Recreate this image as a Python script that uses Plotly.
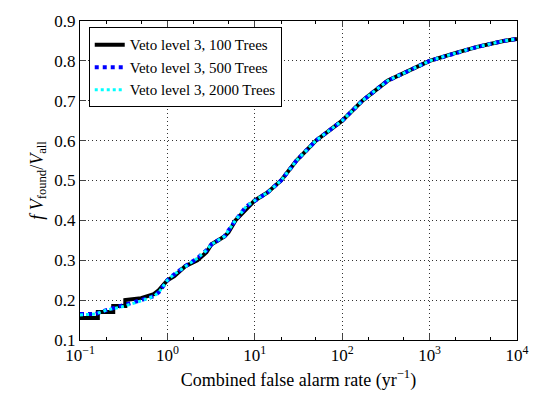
import plotly.graph_objects as go

far_100 = [0.1, 0.16, 0.16, 0.24, 0.24, 0.33, 0.33, 0.5, 0.7, 0.8, 1.0, 1.2, 1.6, 2.2, 2.8, 3.2, 4.5, 5, 6, 8, 10, 14, 20, 30, 50, 100, 170, 330, 1000, 2000, 3500, 7000, 10000]
vf_100 = [0.155, 0.155, 0.17, 0.17, 0.185, 0.185, 0.2, 0.205, 0.215, 0.225, 0.25, 0.26, 0.285, 0.3, 0.32, 0.34, 0.36, 0.37, 0.4, 0.43, 0.45, 0.47, 0.5, 0.55, 0.6, 0.65, 0.7, 0.75, 0.8, 0.82, 0.835, 0.85, 0.855]
far_500 = [0.1, 0.15, 0.2, 0.3, 0.5, 0.7, 0.8, 1.0, 1.2, 1.6, 2.2, 2.8, 3.2, 4.5, 5, 6, 8, 10, 14, 20, 30, 50, 100, 170, 330, 1000, 2000, 3500, 7000, 10000]
vf_500 = [0.165, 0.165, 0.175, 0.185, 0.2, 0.21, 0.22, 0.25, 0.265, 0.285, 0.305, 0.325, 0.34, 0.36, 0.375, 0.4, 0.435, 0.45, 0.47, 0.5, 0.55, 0.6, 0.65, 0.7, 0.75, 0.8, 0.82, 0.835, 0.85, 0.855]
far_2000 = far_500
vf_2000 = [0.163, 0.165, 0.175, 0.183, 0.198, 0.21, 0.22, 0.25, 0.265, 0.285, 0.305, 0.325, 0.34, 0.36, 0.375, 0.4, 0.435, 0.45, 0.47, 0.5, 0.55, 0.6, 0.65, 0.7, 0.75, 0.8, 0.82, 0.835, 0.85, 0.855]

fig = go.Figure()
fig.add_trace(go.Scatter(x=far_100, y=vf_100, mode="lines", name="Veto level 3, 100 Trees",
                         line=dict(color="black", width=4)))
fig.add_trace(go.Scatter(x=far_500, y=vf_500, mode="lines", name="Veto level 3, 500 Trees",
                         line=dict(color="blue", width=4, dash="dot")))
fig.add_trace(go.Scatter(x=far_2000, y=vf_2000, mode="lines", name="Veto level 3, 2000 Trees",
                         line=dict(color="cyan", width=3, dash="dot")))

ax = dict(showline=True, linecolor="black", mirror="ticks", ticks="inside",
          showgrid=True, gridcolor="#333", griddash="1px,3px", gridwidth=1, zeroline=False)
fig.update_xaxes(type="log", range=[-1, 4], tickvals=[0.1, 1, 10, 100, 1000, 10000],
                 ticktext=["10<sup>−1</sup>", "10<sup>0</sup>", "10<sup>1</sup>", "10<sup>2</sup>", "10<sup>3</sup>", "10<sup>4</sup>"],
                 minor=dict(ticks="inside", ticklen=3, tickcolor="black", showgrid=False),
                 title=dict(text="Combined false alarm rate (yr<sup>−1</sup>)", standoff=8, font=dict(size=18)), ticklen=6, **ax)
fig.update_yaxes(range=[0.1, 0.9], dtick=0.1, tickformat=".1f", ticklen=6,
                 title=dict(text="<i>f V</i><sub>found</sub>/<i>V</i><sub>all</sub>", standoff=6, font=dict(size=18)), **ax)
fig.update_layout(width=541, height=412, margin=dict(l=80, r=14, t=12, b=72),
                  plot_bgcolor="white", paper_bgcolor="white",
                  font=dict(family="Liberation Serif", size=17, color="black"),
                  legend=dict(x=0.02, y=0.98, xanchor="left", yanchor="top", bordercolor="black",
                              borderwidth=1, bgcolor="white", font=dict(size=15)))
fig.write_html("out.html", config={"displayModeBar": False},
               post_script="document.body.style.margin='0';document.body.style.overflow='hidden';")
